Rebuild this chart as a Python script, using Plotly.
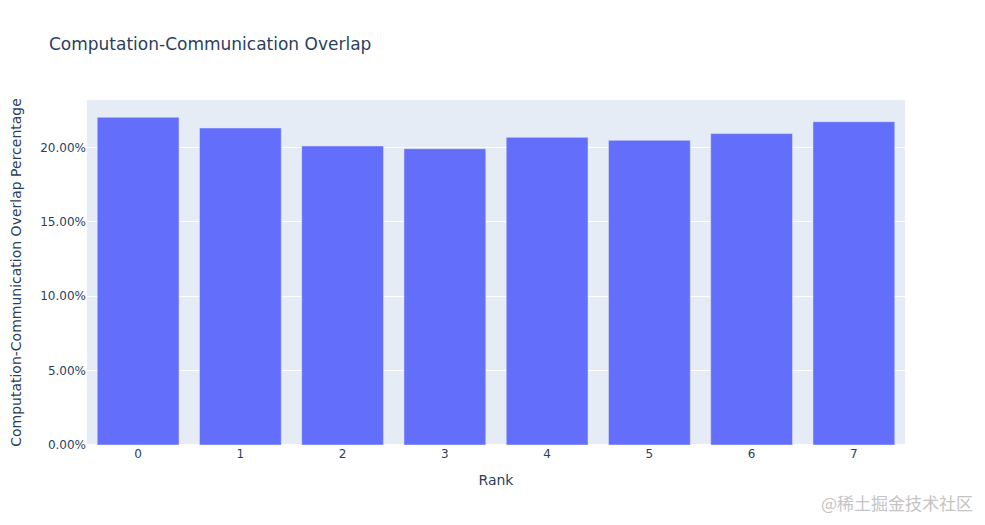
import plotly.graph_objects as go

ranks = [0, 1, 2, 3, 4, 5, 6, 7]
overlap = [0.2202, 0.2130, 0.2009, 0.1991, 0.2067, 0.2047, 0.2092, 0.2172]

fig = go.Figure(go.Bar(x=ranks, y=overlap))
fig.update_layout(
    width=985, height=525,
    margin=dict(l=79, r=88, t=92, b=88),
    font=dict(family="Verdana, DejaVu Sans, sans-serif"),
    title=dict(text="Computation-Communication Overlap", x=0.0416, xanchor="left",
               xref="container", y=1 - 36 / 525, yanchor="middle", yref="container"),
    xaxis=dict(title="Rank", tickmode="array", tickvals=ranks),
    yaxis=dict(title="Computation-Communication Overlap Percentage", tickformat=".2%",
               automargin=False),
)
fig.add_annotation(
    text="@稀土掘金技术社区", xref="paper", yref="paper",
    x=(967 - 79) / 818, y=-(57 / 345), xanchor="right", yanchor="middle", showarrow=False,
    font=dict(size=17, color="#c4c4c4", family="Noto Sans CJK SC"),
)
fig.write_html("out.html")
